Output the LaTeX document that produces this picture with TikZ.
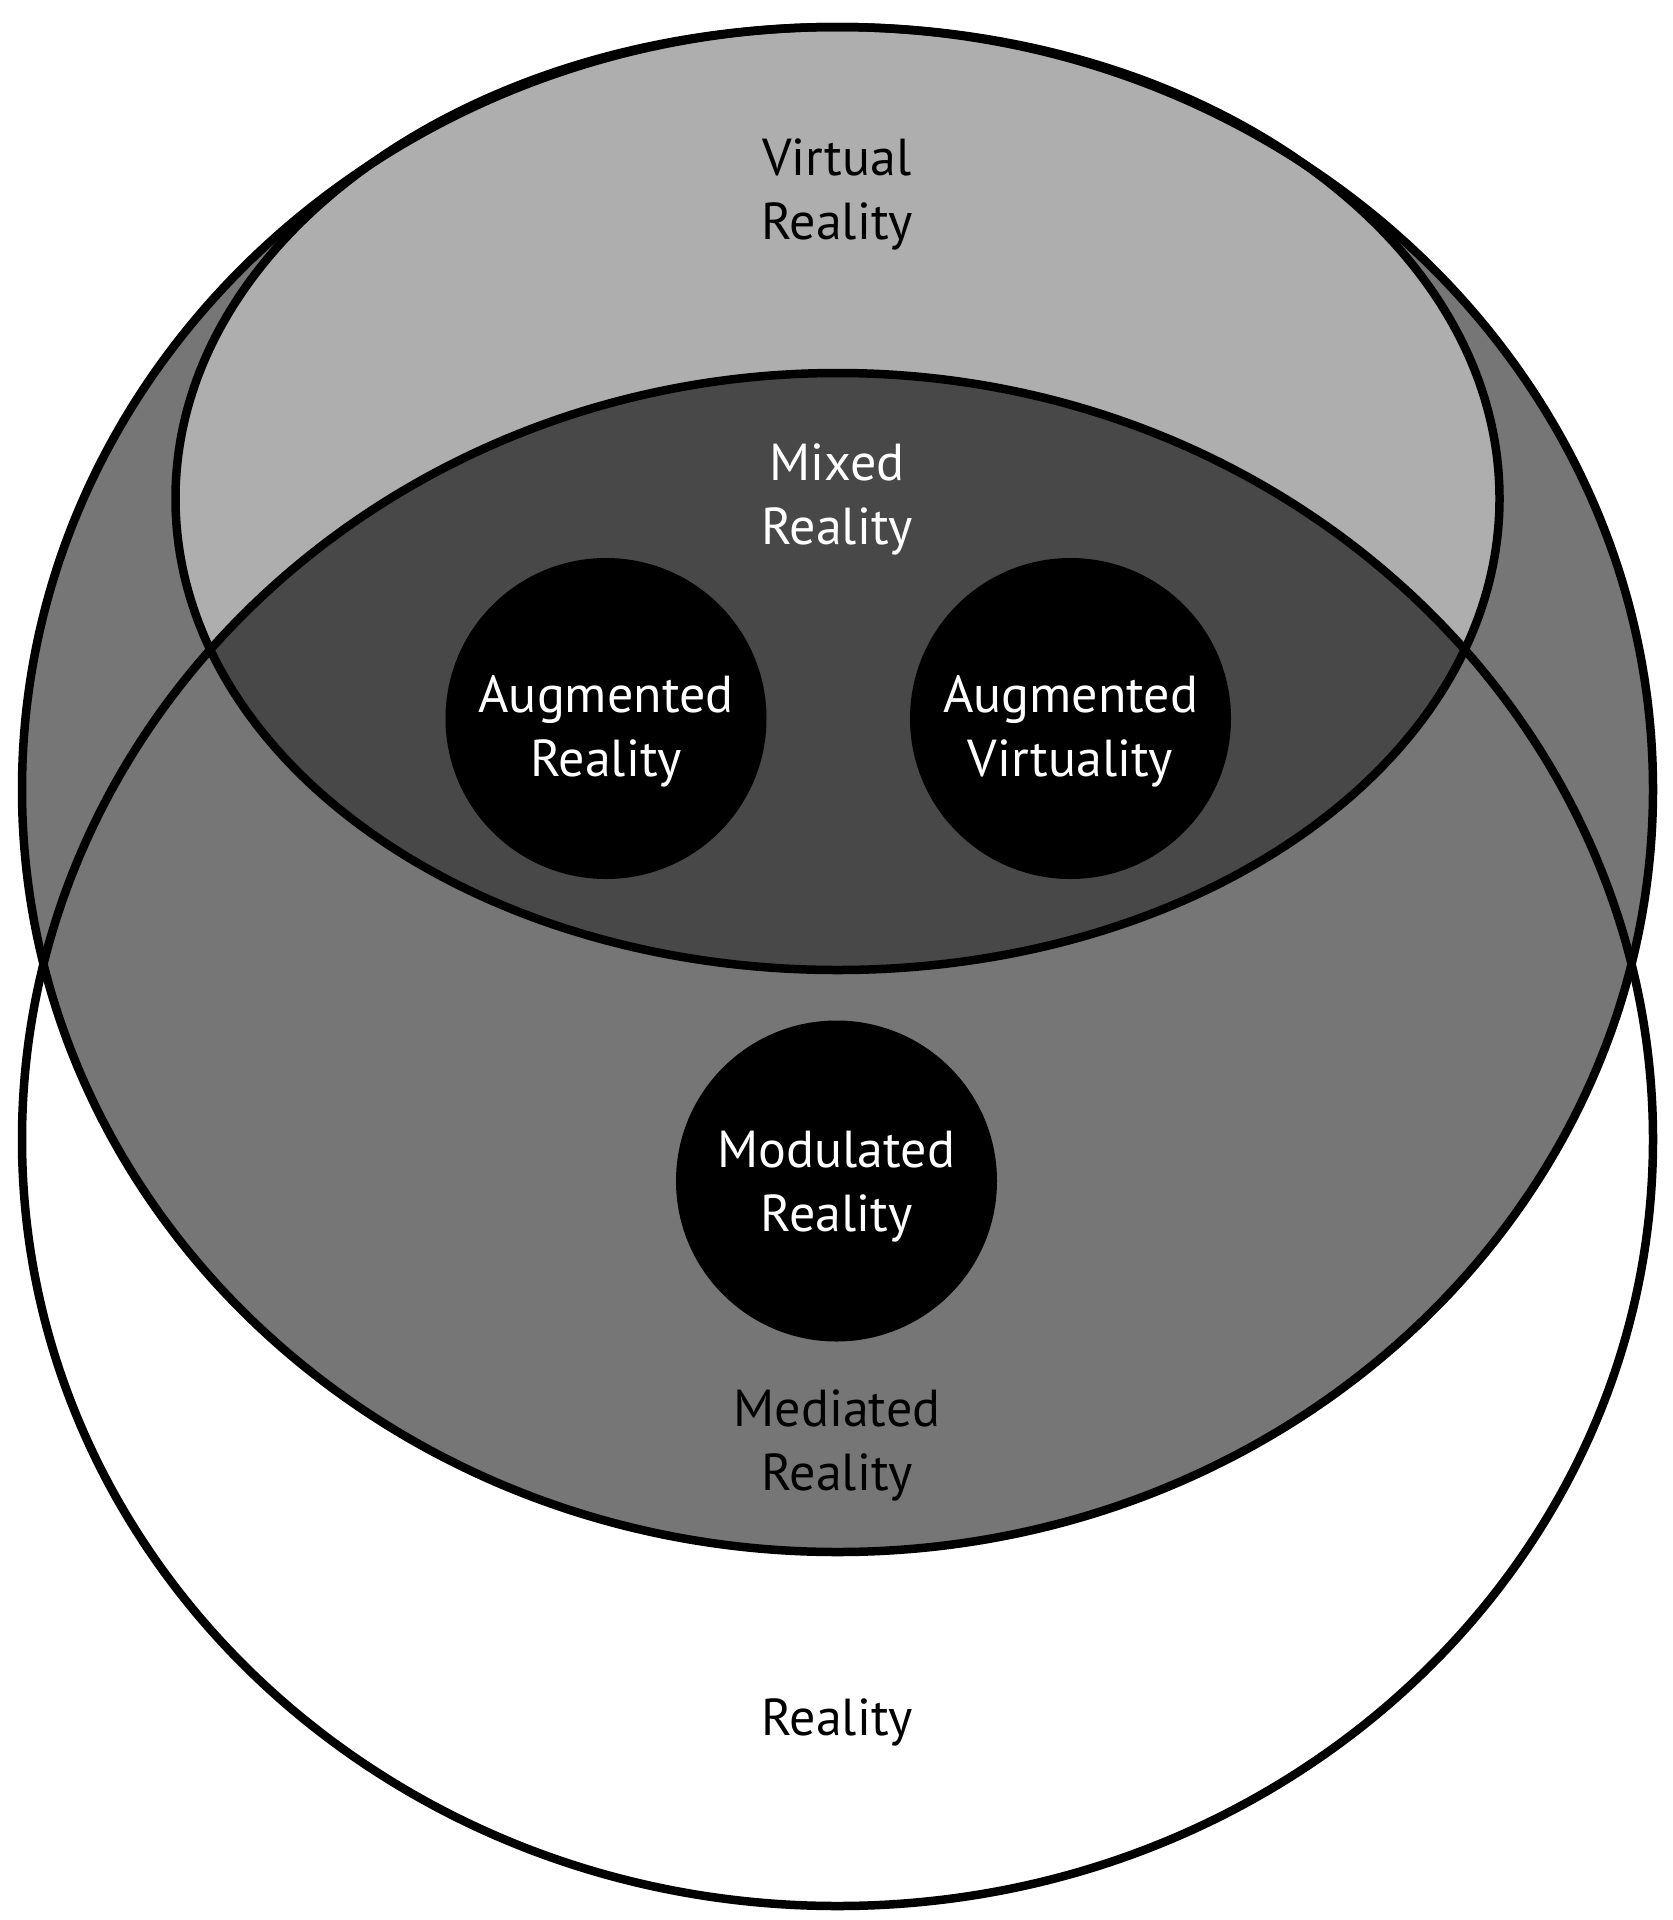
\documentclass[tikz,border=0pt]{standalone}
\usepackage{fontspec}
\setmainfont{PT Sans}
\definecolor{vrgrey}{HTML}{AEAEAE}
\definecolor{medgrey}{HTML}{757675}
\definecolor{mixgrey}{HTML}{484848}
\tikzstyle{rim}=[draw=black, line width=8.5pt]
\tikzstyle{blob}=[circle, fill=black, minimum size=321pt, inner sep=0pt]
\tikzstyle{words}=[align=center, inner sep=0pt, font=\fontsize{52}{64}\selectfont]

\begin{document}
\begin{tikzpicture}[x=1pt, y=-1pt]
			\useasboundingbox (0,0) rectangle (1673,1920);
			%The three big areas
			\fill[white] (837.5,1139.5) ellipse [x radius=815.5, y radius=766.5];
			\fill[medgrey] (837.5,789.5) ellipse [x radius=815.5, y radius=762.5];
			\fill[vrgrey] (837.5,498.5) ellipse [x radius=662, y radius=471.5];
			%Where virtual and real overlap
			\begin{scope}
				\clip (837.5,498.5) ellipse [x radius=662, y radius=471.5];
				\fill[mixgrey] (837.5,1139.5) ellipse [x radius=815.5, y radius=766.5];
			\end{scope}
			\draw[rim] (837.5,1139.5) ellipse [x radius=815.5, y radius=766.5];
			\draw[rim] (837.5,789.5) ellipse [x radius=815.5, y radius=762.5];
			\draw[rim] (837.5,498.5) ellipse [x radius=662, y radius=471.5];
			%The black discs
			\foreach \pos/\name in {{(606,718.5)/ar}, {(1070.5,718.5)/av}, {(836.5,1181)/mod}}
			\node[blob] (\name) at \pos {};
			%Adding the texts
			\foreach \pos/\name/\txt in {{(606,731.5)/artext/{Augmented\\Reality}},
										 {(1070.5,731.5)/avtext/{Augmented\\Virtuality}},
										 {(836.5,1187)/modtext/{Modulated\\Reality}},
										 {(837,499.5)/mixtext/{Mixed\\Reality}}}
			\node[words, text=white] (\name) at \pos {\txt};
			\foreach \pos/\name/\txt in {{(837,194.5)/vrtext/{Virtual\\Reality}},
										 {(837,1445)/medtext/{Mediated\\Reality}},
										 {(837,1722.5)/realtext/{Reality}}}
			\node[words, text=black] (\name) at \pos {\txt};
\end{tikzpicture}
\end{document}
